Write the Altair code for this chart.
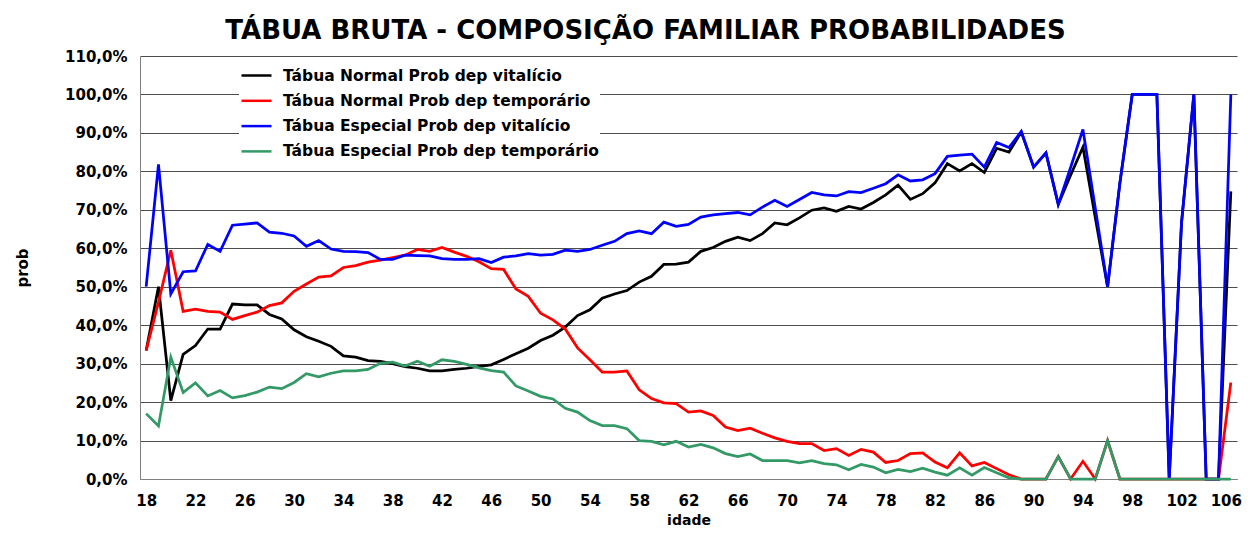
import altair as alt
import pandas as pd

ages = list(range(18, 107))

names = [
    "Tábua Normal Prob dep vitalício",
    "Tábua Normal Prob dep temporário",
    "Tábua Especial Prob dep vitalício",
    "Tábua Especial Prob dep temporário",
]
colors = ["#000000", "#FF0000", "#0000FF", "#339966"]

normal_vitalicio = [
    33.4, 50.0, 20.4, 32.4, 34.7, 39.0, 39.0, 45.5, 45.3, 45.3,
    42.8, 41.6, 38.8, 37.0, 35.8, 34.5, 32.0, 31.7, 30.8, 30.6,
    30.0, 29.2, 28.8, 28.1, 28.1, 28.5, 28.8, 29.3, 29.7, 31.1,
    32.6, 34.0, 36.0, 37.4, 39.5, 42.5, 44.0, 47.0, 48.1, 49.0,
    51.2, 52.7, 55.8, 55.9, 56.4, 59.2, 60.2, 61.8, 62.9, 62.0,
    63.8, 66.6, 66.1, 67.9, 69.9, 70.5, 69.6, 70.9, 70.2, 71.9,
    73.9, 76.4, 72.7, 74.2, 77.0, 82.0, 80.1, 82.0, 79.7, 86.0,
    85.0, 90.2, 81.1, 84.8, 71.4, 79.0, 86.3, 68.0, 50.0, 77.0,
    100.0, 100.0, 100.0, 0.0, 66.7, 100.0, 0.0, 0.0, 74.8,
]

normal_temporario = [
    33.4, 46.0, 59.5, 43.6, 44.2, 43.6, 43.4, 41.5, 42.5, 43.4,
    45.1, 45.8, 48.8, 50.7, 52.5, 52.8, 55.0, 55.5, 56.4, 56.9,
    57.6, 58.2, 59.7, 59.2, 60.2, 59.0, 57.9, 56.5, 54.7, 54.5,
    49.4, 47.5, 43.1, 41.4, 39.0, 34.1, 31.0, 27.8, 27.8, 28.1,
    23.2, 20.9, 19.8, 19.6, 17.4, 17.7, 16.5, 13.5, 12.6, 13.2,
    11.9, 10.7, 9.8, 9.2, 9.2, 7.4, 7.9, 6.1, 7.7, 7.0,
    4.3, 4.8, 6.6, 6.8, 4.4, 2.9, 6.8, 3.4, 4.3, 2.7,
    1.1, 0.0, 0.0, 0.0, 5.8, 0.0, 4.6, 0.0, 10.0, 0.0,
    0.0, 0.0, 0.0, 0.0, 0.0, 0.0, 0.0, 0.0, 25.1,
]

especial_vitalicio = [
    50.0, 81.8, 48.1, 53.9, 54.1, 61.0, 59.2, 66.0, 66.3, 66.6,
    64.2, 63.9, 63.2, 60.5, 62.0, 59.8, 59.2, 59.1, 58.9, 57.1,
    57.1, 58.2, 58.1, 58.0, 57.3, 57.1, 57.1, 57.3, 56.3, 57.7,
    58.0, 58.6, 58.2, 58.4, 59.5, 59.2, 59.7, 60.8, 61.8, 63.8,
    64.5, 63.8, 66.8, 65.7, 66.2, 68.1, 68.7, 69.0, 69.3, 68.7,
    70.7, 72.5, 70.9, 72.7, 74.5, 73.9, 73.6, 74.7, 74.5, 75.6,
    76.8, 79.1, 77.5, 77.8, 79.4, 83.9, 84.2, 84.5, 81.1, 87.5,
    86.2, 90.4, 81.1, 84.8, 71.4, 81.0, 90.9, 70.5, 50.0, 77.0,
    100.0, 100.0, 100.0, 0.0, 66.7, 100.0, 0.0, 0.0, 100.0,
]

especial_temporario = [
    17.0, 13.8, 31.7, 22.5, 25.0, 21.6, 23.0, 21.1, 21.7, 22.6,
    23.9, 23.5, 25.1, 27.4, 26.6, 27.5, 28.1, 28.1, 28.5, 30.1,
    30.4, 29.4, 30.6, 29.3, 31.0, 30.6, 29.8, 28.9, 28.2, 27.8,
    24.2, 22.9, 21.5, 20.8, 18.4, 17.4, 15.2, 13.9, 13.9, 13.1,
    10.0, 9.8, 8.9, 9.8, 8.3, 9.0, 8.1, 6.6, 5.8, 6.5,
    4.8, 4.8, 4.8, 4.2, 4.8, 4.0, 3.7, 2.4, 3.8, 3.1,
    1.6, 2.5, 1.9, 2.8, 1.8, 1.0, 2.9, 1.0, 3.0, 1.6,
    0.3, 0.0, 0.0, 0.0, 5.8, 0.0, 0.0, 0.0, 10.0, 0.0,
    0.0, 0.0, 0.0, 0.0, 0.0, 0.0, 0.0, 0.0, 0.0,
]

x_ticks = list(range(18, 107, 4))
y_ticks = list(range(0, 111, 10))

series = [normal_vitalicio, normal_temporario, especial_vitalicio, especial_temporario]
rows = []
for name, vals in zip(names, series):
    for a, v in zip(ages, vals):
        rows.append({"idade": a, "prob": v, "serie": name})
df = pd.DataFrame(rows)

FONT = "DejaVu Sans"

color = alt.Color(
    "serie:N",
    scale=alt.Scale(domain=names, range=colors),
    legend=alt.Legend(
        title=None,
        orient="none",
        legendX=99,
        legendY=2,
        padding=1,
        fillColor="white",
        symbolType="stroke",
        symbolSize=900,
        symbolStrokeWidth=2.5,
        labelFont=FONT,
        labelFontWeight="bold",
        labelFontSize=15.5,
        labelColor="black",
        labelOffset=10,
        labelLimit=0,
        rowPadding=0.3,
    ),
)

base = alt.Chart(df).mark_line(strokeWidth=2.75).encode(
    x=alt.X(
        "idade:Q",
        scale=alt.Scale(domain=[17.5, 106.5], nice=False, zero=False),
        axis=alt.Axis(
            values=x_ticks,
            grid=False,
            ticks=False,
            domainColor="#808080",
            labelFont=FONT,
            labelFontWeight="bold",
            labelFontSize=15,
            labelColor="black",
            labelPadding=14,
            labelOffset={"condition": {"test": "datum.value == 106", "value": -5}, "value": 0},
            title="idade",
            titleFont=FONT,
            titleFontWeight="bold",
            titleFontSize=14,
            titleColor="black",
            titleBaseline="middle",
            titleY=41,
        ),
    ),
    y=alt.Y(
        "prob:Q",
        scale=alt.Scale(domain=[0, 110], nice=False),
        axis=alt.Axis(
            values=y_ticks,
            labelExpr="replace(format(datum.value, '.1f'), '.', ',') + '%'",
            grid=True,
            gridColor="#4d4d4d",
            gridWidth=1,
            ticks=False,
            domainColor="#808080",
            labelFont=FONT,
            labelFontWeight="bold",
            labelFontSize=15,
            labelColor="black",
            labelPadding=13,
            title="prob",
            titleFont=FONT,
            titleFontWeight="bold",
            titleFontSize=15,
            titleColor="black",
            titleAngle=270,
            titleX=-118,
            titleY=211.5,
            titleBaseline="middle",
        ),
    ),
    color=color,
)

layers = [base.transform_filter(alt.datum.serie == n) for n in names]

chart = alt.layer(*layers).properties(
    width=1097,
    height=423,
    autosize=alt.AutoSizeParams(type="none"),
    padding={"left": 132, "top": 48, "right": 6, "bottom": 47},
    title=alt.TitleParams(
        "TÁBUA BRUTA - COMPOSIÇÃO FAMILIAR PROBABILIDADES",
        font=FONT,
        fontSize=26,
        fontWeight="bold",
        color="black",
        anchor="middle",
        dx=-43,
        offset=5,
    ),
).configure_view(stroke=None)

chart.save("out.html", embed_options={"renderer": "svg", "actions": False})
